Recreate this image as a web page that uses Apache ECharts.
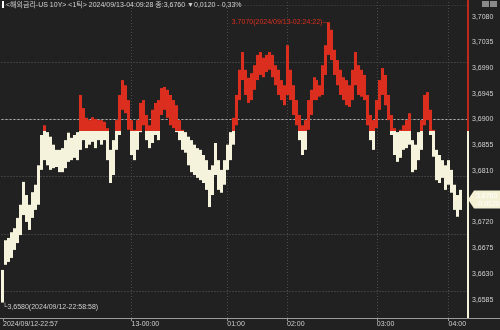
<!DOCTYPE html>
<html><head><meta charset="utf-8">
<script src="https://cdn.jsdelivr.net/npm/echarts@6/dist/echarts.min.js"></script>
<style>html,body{margin:0;padding:0;background:#212121}#c{width:500px;height:330px}</style>
</head><body><div id="c"></div>
<script>
// per-column tick range (high / low) of US 10Y yield
const highs = [3.6637,3.6689,3.6693,3.6703,3.6710,3.6728,3.6751,3.6791,3.6768,3.6751,
3.6773,3.6786,3.6820,3.6873,3.6890,3.6878,3.6870,3.6856,3.6847,3.6847,
3.6850,3.6864,3.6877,3.6868,3.6873,3.6878,3.6943,3.6920,3.6903,3.6899,
3.6904,3.6901,3.6899,3.6899,3.6896,3.6885,3.6847,3.6864,3.6899,3.6943,
3.6969,3.6960,3.6934,3.6899,3.6882,3.6899,3.6929,3.6934,3.6908,3.6890,
3.6917,3.6929,3.6934,3.6955,3.6957,3.6952,3.6943,3.6934,3.6925,3.6899,
3.6882,3.6878,3.6870,3.6864,3.6856,3.6850,3.6847,3.6838,3.6829,3.6812,
3.6820,3.6859,3.6829,3.6812,3.6829,3.6856,3.6878,3.6903,3.6943,3.6987,
3.7018,3.6987,3.6973,3.6981,3.6995,3.7013,3.7018,3.7008,3.7013,3.7018,
3.7013,3.6995,3.6987,3.6969,3.6960,3.7030,3.6987,3.6960,3.6934,3.6908,
3.6890,3.6899,3.6934,3.6952,3.6974,3.6969,3.6960,3.6995,3.7030,3.7070,
3.7057,3.7022,3.7004,3.6987,3.6974,3.6969,3.6960,3.6987,3.7018,3.6995,
3.6987,3.6978,3.6943,3.6908,3.6899,3.6934,3.6969,3.6990,3.6978,3.6943,
3.6908,3.6885,3.6878,3.6882,3.6890,3.6899,3.6911,3.6864,3.6856,3.6878,
3.6899,3.6943,3.6948,3.6917,3.6882,3.6847,3.6838,3.6829,3.6820,3.6829,
3.6812,3.6786,3.6768,3.6777];
const lows = [3.6580,3.6646,3.6651,3.6658,3.6672,3.6684,3.6698,3.6733,3.6721,3.6707,
3.6728,3.6742,3.6751,3.6812,3.6829,3.6820,3.6812,3.6815,3.6817,3.6808,
3.6808,3.6815,3.6826,3.6829,3.6833,3.6829,3.6847,3.6864,3.6850,3.6856,
3.6861,3.6850,3.6864,3.6856,3.6864,3.6829,3.6789,3.6803,3.6847,3.6873,
3.6917,3.6911,3.6882,3.6838,3.6829,3.6847,3.6878,3.6890,3.6864,3.6850,
3.6859,3.6873,3.6864,3.6908,3.6917,3.6903,3.6890,3.6885,3.6878,3.6864,
3.6847,3.6842,3.6820,3.6808,3.6803,3.6798,3.6794,3.6789,3.6777,3.6747,
3.6768,3.6803,3.6777,3.6772,3.6786,3.6812,3.6829,3.6856,3.6890,3.6934,
3.6969,3.6943,3.6929,3.6934,3.6952,3.6969,3.6978,3.6974,3.6983,3.6987,
3.6974,3.6960,3.6943,3.6934,3.6925,3.6943,3.6934,3.6908,3.6890,3.6864,
3.6838,3.6847,3.6882,3.6908,3.6934,3.6934,3.6940,3.6943,3.6978,3.7013,
3.7004,3.6978,3.6960,3.6943,3.6934,3.6925,3.6922,3.6934,3.6960,3.6943,
3.6940,3.6934,3.6890,3.6864,3.6847,3.6885,3.6917,3.6943,3.6925,3.6899,
3.6873,3.6838,3.6826,3.6833,3.6847,3.6850,3.6856,3.6808,3.6812,3.6829,
3.6847,3.6890,3.6899,3.6873,3.6835,3.6794,3.6789,3.6798,3.6777,3.6786,
3.6772,3.6742,3.6730,3.6742];
const baseValue = 3.6880;
const lastValue = 3.6760;
const yTickValues = [3.6585,3.6630,3.6675,3.6720,3.6765,3.6810,3.6855,3.6900,3.6945,3.6990,3.7035,3.7080];
const xTickIndex = [0, 43, 75, 95, 125, 149];
const xTickLabels = ['2024/09/12-22:57','13-00:00','01:00','02:00','03:00','04:00'];
const maxPoint = {index: 109, value: 3.7070, text: '3.7070(2024/09/13-02:24:22)'};
const minPoint = {index: 0, value: 3.6580, text: '3,6580(2024/09/12-22:58:58)'};
const titleText = '<해외금리-US 10Y> <1틱> 2024/09/13-04:09:28 종:3,6760 ▼0,0120 - 0,33%';
const tagLines = ['3,6760', '-0,0120'];
const categoryCount = 156;

const RED = '#dc2e1e', CREAM = '#f6f3dc', BG = '#212121', TXT = '#cfcfcf';
const FONT = "'Liberation Sans', Arial, 'Noto Sans CJK KR', sans-serif";
const yMin = 3.6553, yMax = 3.7109;

const cats = [];
for (let i = 0; i < categoryCount; i++) cats.push(i);
const data = highs.map((h, i) => [i, h, lows[i]]);

function renderItem(params, api) {
  const i = api.value(0), hi = api.value(1), lo = api.value(2);
  const a = api.coord([i, hi]), b = api.coord([i, lo]), m = api.coord([i, baseValue]);
  const w = api.size([1, 0])[0];
  const x = Math.round(a[0] - w / 2), ww = Math.max(1, Math.round(w));
  const kids = [];
  if (hi > baseValue) {
    const y1 = a[1], y2 = lo > baseValue ? b[1] : m[1];
    kids.push({type: 'rect', shape: {x: x, y: y1, width: ww, height: Math.max(1, y2 - y1)}, style: {fill: RED}});
  }
  if (lo < baseValue) {
    const y1 = hi < baseValue ? a[1] : m[1], y2 = b[1];
    kids.push({type: 'rect', shape: {x: x, y: y1, width: ww, height: Math.max(1, y2 - y1)}, style: {fill: CREAM}});
  }
  return {type: 'group', children: kids};
}

const chart = echarts.init(document.getElementById('c'), null, {renderer: 'canvas'});
const frac = (yMax - baseValue) / (yMax - yMin);

const markLines = [];
yTickValues.forEach(v => markLines.push({yAxis: v, lineStyle: {color: '#4a4a4a', type: [1, 2], width: 1}}));
xTickIndex.slice(1).forEach(i => markLines.push({xAxis: i, lineStyle: {color: '#4a4a4a', type: [1, 2], width: 1}}));
markLines.push({yAxis: baseValue, lineStyle: {color: '#b0b0b0', type: [2, 2], width: 1}});

chart.setOption({
  backgroundColor: BG,
  animation: false,
  grid: {left: 0, right: 32, top: 0, bottom: 12, containLabel: false},
  xAxis: {
    type: 'category', data: cats, boundaryGap: true,
    axisLine: {show: true, lineStyle: {color: '#9a9a9a', width: 1}},
    axisTick: {show: true, interval: (idx) => xTickIndex.includes(idx), alignWithLabel: true, length: 3, lineStyle: {color: '#9a9a9a'}},
    axisLabel: {
      interval: (idx) => xTickIndex.includes(idx),
      formatter: (val, idx) => { const k = xTickIndex.indexOf(idx); return k >= 0 ? xTickLabels[k] : ''; },
      align: 'left', margin: 3, color: TXT, fontSize: 7, fontFamily: FONT
    },
    splitLine: {show: false}
  },
  yAxis: {
    type: 'value', position: 'right', min: yMin, max: yMax,
    axisLine: {show: true, lineStyle: {width: 2, color: new echarts.graphic.LinearGradient(0, 0, 0, 1, [
      {offset: 0, color: '#c0281c'}, {offset: frac, color: '#c0281c'}, {offset: frac, color: CREAM}, {offset: 1, color: CREAM}])}},
    axisTick: {show: false},
    axisLabel: {customValues: yTickValues, formatter: v => v.toFixed(4).replace('.', ','), color: TXT, fontSize: 7, fontFamily: FONT, margin: 4},
    splitLine: {show: false}
  },
  series: [{
    type: 'custom', renderItem: renderItem, data: data, encode: {x: 0, y: [1, 2]}, clip: false,
    markLine: {silent: true, symbol: ['none', 'none'], label: {show: false}, data: markLines, z: 0},
    markPoint: {
      silent: true, symbol: 'rect', symbolSize: 1, itemStyle: {color: 'rgba(0,0,0,0)'},
      data: [
        {coord: [maxPoint.index, maxPoint.value], label: {show: true, position: 'left', distance: -1, formatter: maxPoint.text + '—', color: RED, fontSize: 7, fontFamily: FONT}},
        {coord: [minPoint.index, minPoint.value], label: {show: true, position: [0, 2], align: 'left', verticalAlign: 'top', formatter: '└' + minPoint.text, color: TXT, fontSize: 7, fontFamily: FONT}}
      ]
    }
  }]
});

const py = chart.convertToPixel({yAxisIndex: 0}, lastValue);
chart.setOption({
  graphic: [
    {type: 'line', shape: {x1: 0, y1: 318.5, x2: 500, y2: 318.5}, style: {stroke: '#9a9a9a', lineWidth: 1}, z: 50},
    {type: 'rect', shape: {x: 2, y: 1, width: 2, height: 7}, style: {fill: '#ffffff'}, z: 50},
    {type: 'text', x: 6, y: 5, style: {text: titleText, fill: TXT, font: '7px ' + FONT, verticalAlign: 'middle'}, z: 50},
    {type: 'rect', shape: {x: 482, y: 1, width: 7, height: 6}, style: {fill: '#8a8a8a'}, z: 50},
    {type: 'rect', shape: {x: 490, y: 1, width: 7, height: 6}, style: {fill: '#8a8a8a'}, z: 50},
    {type: 'polygon', shape: {points: [[468, py], [474, py - 9], [500, py - 9], [500, py + 9], [474, py + 9]]}, style: {fill: '#f3f0d4'}, z: 60},
    {type: 'text', x: 476, y: py - 4, style: {text: tagLines[0], fill: '#ffffff', font: '7px ' + FONT, verticalAlign: 'middle'}, z: 61},
    {type: 'text', x: 476, y: py + 4, style: {text: tagLines[1], fill: '#ffffff', font: '7px ' + FONT, verticalAlign: 'middle'}, z: 61}
  ]
});
</script></body></html>
